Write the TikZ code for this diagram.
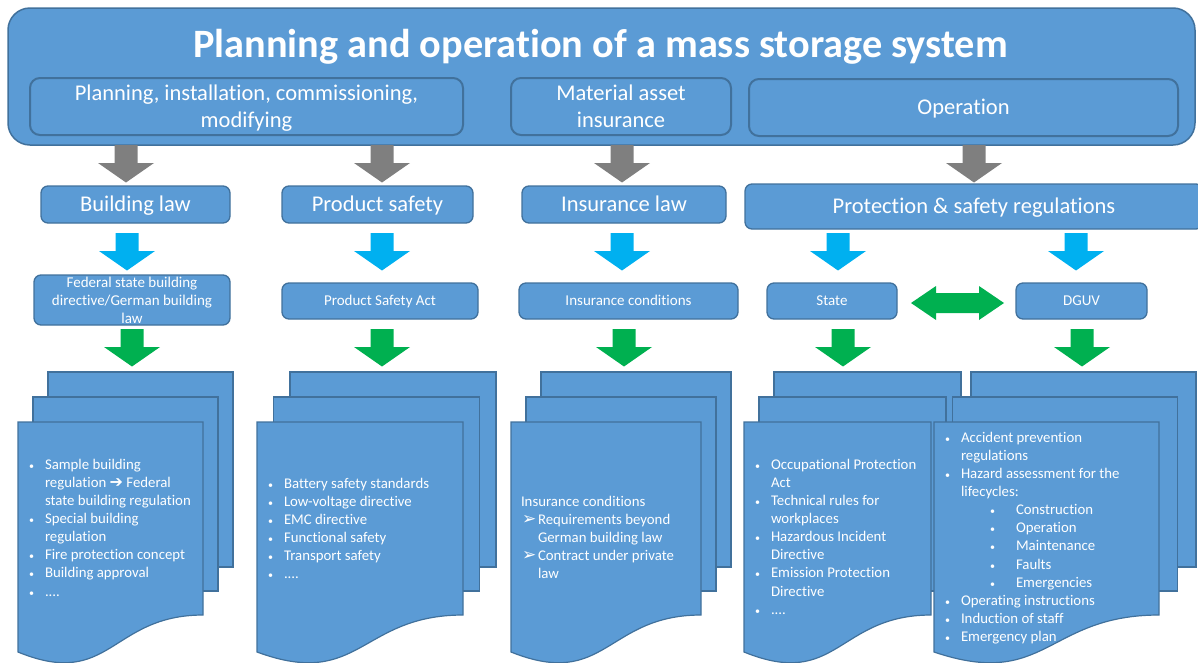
\documentclass[tikz,border=0pt]{standalone}
\usepackage{fontspec}
\setmainfont{Carlito}[Ligatures=NoCommon]
\newfontfamily\djv{DejaVu Sans}
\definecolor{boxblue}{HTML}{5B9BD5}
\definecolor{boxedge}{HTML}{41719C}
\definecolor{arrgray}{HTML}{7F7F7F}
\definecolor{arrblue}{HTML}{00B0F0}
\definecolor{arrgreen}{HTML}{00B050}
\newcommand\fsz[2]{\fontsize{#1}{#2}\selectfont}
\newcommand\smdot{{\fsz{10}{10}\textbullet}}
\newcommand\bu{\makebox[17pt][l]{\hspace*{1pt}\smdot}}
\newcommand\ci{\hspace*{17pt}}
\newcommand\subbu{\hspace*{46pt}\makebox[26pt][l]{\smdot}}
\newcommand\arb{\hspace*{1pt}\makebox[16pt][l]{\raisebox{-0.5pt}{\djv\fsz{17}{17}➢}}}
\newcommand\docstack[3]{%
  \filldraw[docpage] (#1+2*#3,372) rectangle (#1+2*#3+#2,567);
  \filldraw[docpage] (#1+#3,397) rectangle (#1+#3+#2,591);
  \filldraw[docpage] (#1,422) -- (#1+#2,422) -- (#1+#2,615)
    .. controls (#1+#2/2,615) and (#1+#2/2,690) .. (#1,652) -- cycle;}
\begin{document}
\begin{tikzpicture}[x=1pt,y=-1pt,
  every node/.style={inner sep=0pt, outer sep=0pt, text=white},
  topbox/.style={draw=boxedge, fill=boxblue, line width=1.5pt, rounded corners=22pt},
  subbox/.style={draw=boxedge, fill=boxblue, line width=2pt, rounded corners=10pt},
  lvbox/.style={draw=boxedge, fill=boxblue, line width=1.3pt, rounded corners=7pt},
  bigtxt/.style={font=\fsz{22.5}{27.5}, text height=14.5pt, text depth=0pt},
  smalltxt/.style={font=\fsz{15}{18}, text height=9.7pt, text depth=0pt},
  doctxt/.style={anchor=base west, font=\fsz{14.8}{18.15}},
  docpage/.style={draw=boxedge, fill=boxblue, line width=1.2pt},
  pics/dnarr/.style={code={\fill[#1] (-11.5,0) -- (11.5,0) -- (11.5,18) -- (28,18)
     -- (0,37.5) -- (-28,18) -- (-11.5,18) -- cycle;}}
]
\useasboundingbox (0,0) rectangle (1198,662);

% top frame
\node[topbox, minimum width=1187pt, minimum height=137pt] (top) at (601.5,76.5) {};
\node[anchor=base, font=\bfseries\fsz{40.3}{48}] (title) at (600.5,57)
  {Planning and operation of a mass storage system};
\node[subbox, minimum width=433pt, minimum height=57pt] (sub1) at (246.5,106.5) {};
\node[anchor=base, font=\fsz{22.5}{27.5}] (sub1t) at (246.5,100)
  {\parbox[t]{420pt}{\centering Planning, installation, commissioning,\\ modifying}};
\node[subbox, minimum width=220pt, minimum height=57pt] (sub2) at (621,106.5) {};
\node[anchor=base, font=\fsz{22.5}{27.5}] (sub2t) at (621,100)
  {\parbox[t]{210pt}{\centering Material asset\\ insurance}};
\node[subbox, bigtxt, minimum width=429pt, minimum height=57pt] (sub3) at (963.5,107.5) {Operation};

% level 2
\node[lvbox, bigtxt, minimum width=189pt, minimum height=37pt] (bl) at (135.5,204.5) {Building law};
\node[lvbox, bigtxt, minimum width=191pt, minimum height=37pt] (ps) at (377.5,204.5) {Product safety};
\node[lvbox, bigtxt, minimum width=204pt, minimum height=37pt] (il) at (624,204.5) {Insurance law};
\node[lvbox, bigtxt, minimum width=458pt, minimum height=45pt] (psr) at (974,206.5) {Protection \& safety regulations};

% level 3
\node[lvbox, minimum width=196pt, minimum height=50pt] (fed) at (132,300) {};
\node[anchor=base, font=\fsz{15}{18}] (fedt) at (132,287)
  {\parbox[t]{200pt}{\centering Federal state building\\ directive/German building\\ law}};
\node[lvbox, smalltxt, minimum width=196pt, minimum height=36pt] (psa) at (380,301) {Product Safety Act};
\node[lvbox, smalltxt, minimum width=219pt, minimum height=36pt] (ic) at (628.5,301) {Insurance conditions};
\node[lvbox, smalltxt, minimum width=130pt, minimum height=36pt] (st) at (832,301) {State};
\node[lvbox, smalltxt, minimum width=131pt, minimum height=36pt] (dg) at (1081.5,301) {DGUV};

% block arrows
\pic at (126,145) {dnarr=arrgray};
\pic at (382,145) {dnarr=arrgray};
\pic at (622,145) {dnarr=arrgray};
\pic at (974,145) {dnarr=arrgray};
\pic at (127,233) {dnarr=arrblue};
\pic at (382,233) {dnarr=arrblue};
\pic at (622,233) {dnarr=arrblue};
\pic at (838,233) {dnarr=arrblue};
\pic at (1076,233) {dnarr=arrblue};
\pic at (132,329) {dnarr=arrgreen};
\pic at (382,329) {dnarr=arrgreen};
\pic at (624,329) {dnarr=arrgreen};
\pic at (843,329) {dnarr=arrgreen};
\pic at (1082,329) {dnarr=arrgreen};
\fill[arrgreen] (911,303) -- (936,286) -- (936,293) -- (979,293) -- (979,286) -- (1004,303)
  -- (979,320) -- (979,313) -- (936,313) -- (936,320) -- cycle;

% document stacks
\docstack{18}{185}{15}
\docstack{257}{206}{16.5}
\docstack{511}{190}{15}
\docstack{744}{187}{15}
\docstack{934}{225}{18.5}

\node[doctxt] (t1) at (28,469) {\parbox[t]{200pt}{%
\bu Sample building\\
\ci regulation {\djv\fsz{16}{16}➔} Federal\\
\ci state building regulation\\
\bu Special building\\
\ci regulation\\
\bu Fire protection concept\\
\bu Building approval\\
\bu ....}};

\node[doctxt] (t2) at (267,488) {\parbox[t]{200pt}{%
\bu Battery safety standards\\
\bu Low-voltage directive\\
\bu EMC directive\\
\bu Functional safety\\
\bu Transport safety\\
\bu ....}};

\node[doctxt] (t3) at (521,506) {\parbox[t]{200pt}{%
Insurance conditions\\
\arb Requirements beyond\\
\ci German building law\\
\arb Contract under private\\
\ci law}};

\node[doctxt] (t4) at (754,469) {\parbox[t]{200pt}{%
\bu Occupational Protection\\
\ci Act\\
\bu Technical rules for\\
\ci workplaces\\
\bu Hazardous Incident\\
\ci Directive\\
\bu Emission Protection\\
\ci Directive\\
\bu ....}};

\node[doctxt] (t5) at (944,442) {\parbox[t]{230pt}{%
\bu Accident prevention\\
\ci regulations\\
\bu Hazard assessment for the\\
\ci lifecycles:\\
\subbu Construction\\
\subbu Operation\\
\subbu Maintenance\\
\subbu Faults\\
\subbu Emergencies\\
\bu Operating instructions\\
\bu Induction of staff\\
\bu Emergency plan}};
\end{tikzpicture}
\end{document}
